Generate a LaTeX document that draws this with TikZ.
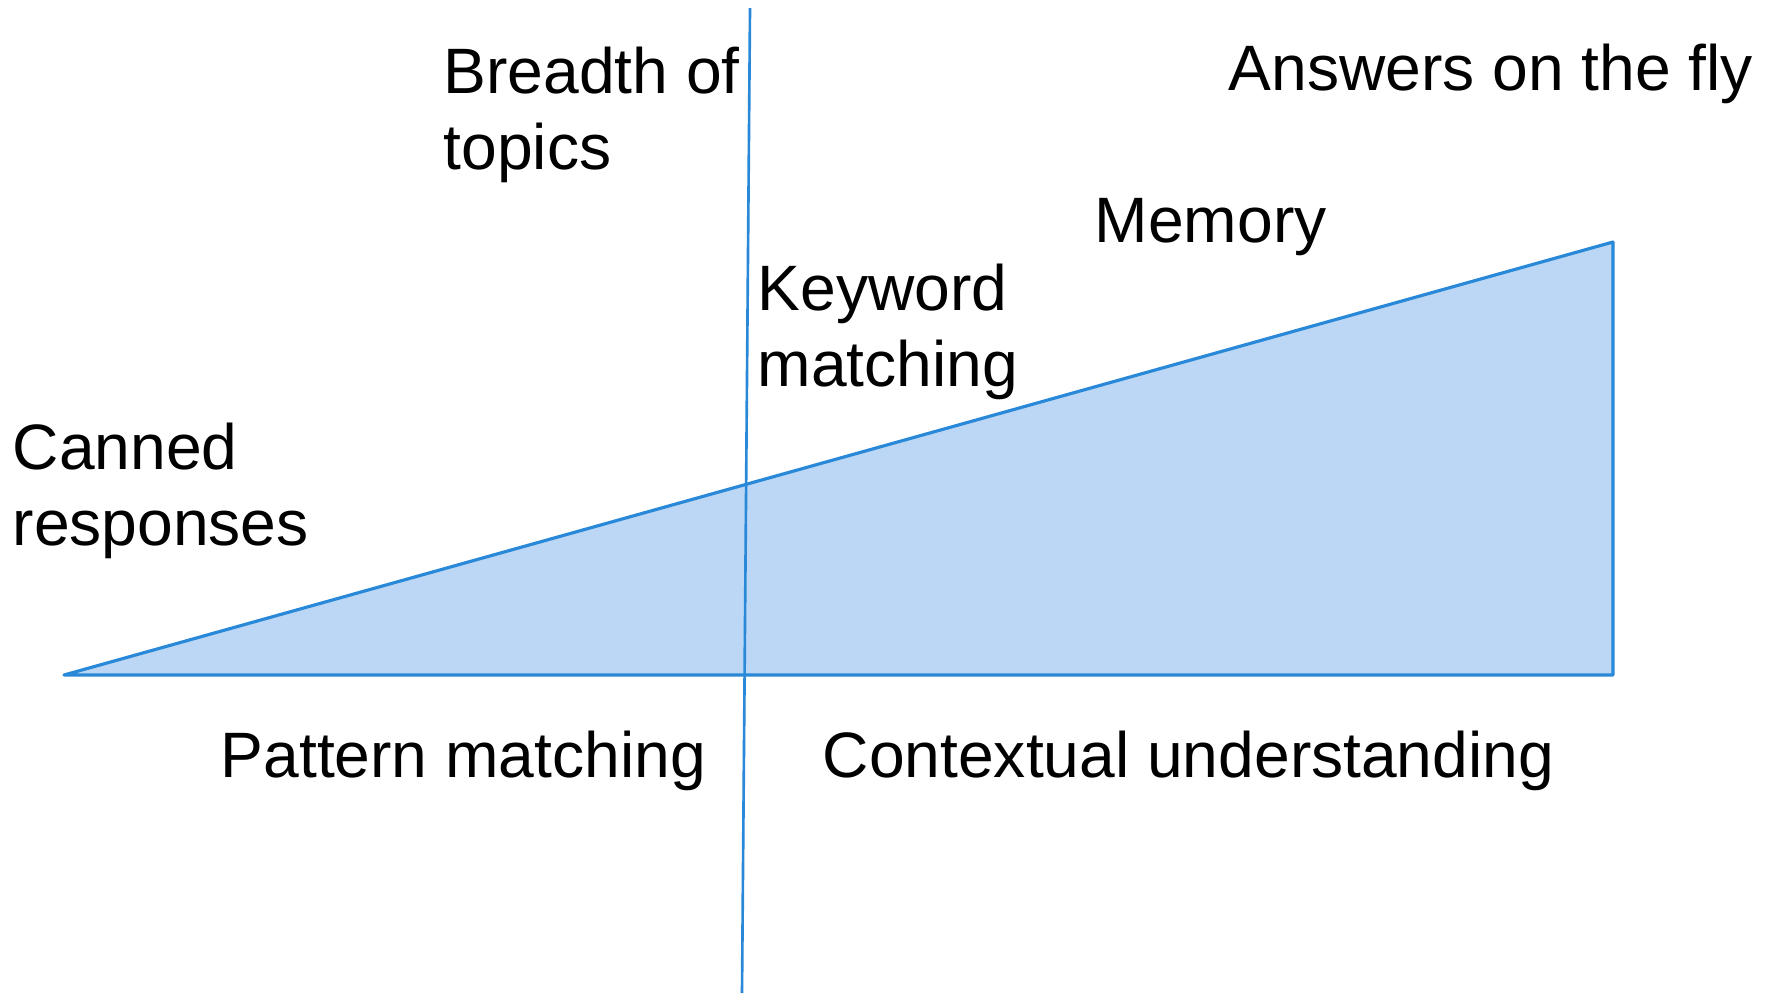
\documentclass[tikz,border=0pt]{standalone}
\usepackage{fontspec}
\setmainfont{Liberation Sans}
\usepackage{tikz}
\usetikzlibrary{calc}
\definecolor{lineblue}{RGB}{41,137,216}
\definecolor{fillblue}{RGB}{187,215,245}
\tikzset{
    lbl/.style={inner sep=0pt, align=left, font=\fontsize{18.25}{21.6}\selectfont}
}

\begin{document}
\begin{tikzpicture}[x=0.01cm, y=-0.01cm]
        \useasboundingbox (0,0) rectangle (1767,993);
        \filldraw[fill=fillblue, draw=lineblue, line width=0.9pt, line join=round] (64,675) -- (1613,675) -- (1613,242) -- cycle;
        \draw[lineblue, line width=0.75pt] (750,8) -- (742,993);
        \node[lbl, anchor=north west] (breadth) at (443,46) {Breadth of\\topics};
        \node[lbl, anchor=base west] (fly) at (1228,90) {Answers on the fly};
        \node[lbl, anchor=base west] (memory) at (1094,242) {Memory};
        \node[lbl, anchor=north west] (keyword) at (757,263) {Keyword\\matching};
        \node[lbl, anchor=north west] (canned) at (12,422) {Canned\\responses};
        \node[lbl, anchor=base west] (pattern) at (220,777) {Pattern matching};
        \node[lbl, anchor=base west] (context) at (822,777) {Contextual understanding};
    \end{tikzpicture}
\end{document}
